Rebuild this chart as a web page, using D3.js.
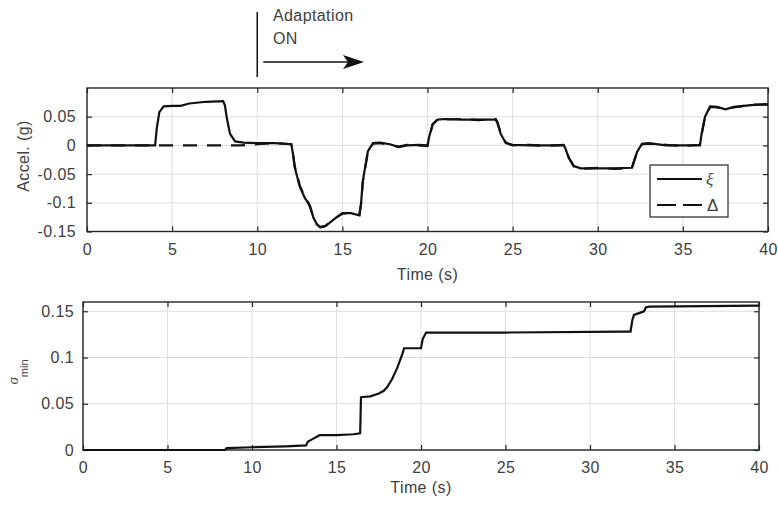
<!DOCTYPE html>
<html><head><meta charset="utf-8">
<script src="https://cdn.jsdelivr.net/npm/d3@7"></script>
<style>
html,body{margin:0;padding:0;background:#fff;}
svg{display:block;font-family:"Liberation Sans",Arial,sans-serif;}
</style></head><body>
<svg id="chart" width="778" height="512"></svg>
<script>
// ---- data ----
const xTicks = [0,5,10,15,20,25,30,35,40];
const accelTicks = [-0.15,-0.1,-0.05,0,0.05];
const accelTickLabels = ["-0.15","-0.1","-0.05","0","0.05"];
const sigmaTicks = [0,0.05,0.1,0.15];
const sigmaTickLabels = ["0","0.05","0.1","0.15"];

const xiTime  = [0,4,4.1,4.25,4.5,5,5.5,6,7,8,8.1,8.2,8.4,8.7,9.2,10,11,12,12.1,12.2,12.5,12.8,13,13.1,13.3,13.5,13.7,14,14.5,15,15.5,16,16.1,16.2,16.5,16.8,17.2,17.8,18.3,18.8,19.5,20,20.1,20.3,20.6,21,22,23,24,24.1,24.3,24.6,25,26,27,28,28.1,28.3,28.6,29,30,31,32,32.1,32.3,32.6,33,34,35,36,36.1,36.3,36.6,37,37.5,38,39,40];
const xiValue = [0,0,0.03,0.058,0.068,0.069,0.069,0.073,0.076,0.077,0.07,0.05,0.02,0.007,0.005,0.004,0.004,0.002,-0.015,-0.038,-0.072,-0.092,-0.1,-0.106,-0.126,-0.137,-0.143,-0.141,-0.129,-0.118,-0.118,-0.122,-0.1,-0.062,-0.01,0.004,0.005,0.002,-0.003,0.0,0.001,0.0,0.015,0.037,0.045,0.046,0.045,0.045,0.045,0.04,0.02,0.004,0.001,0.0,0.0,0.0,-0.005,-0.022,-0.036,-0.04,-0.04,-0.04,-0.039,-0.03,-0.012,0.003,0.004,0.0,0.0,0.0,0.02,0.05,0.068,0.067,0.063,0.067,0.07,0.072];

const deltaTime  = [0,4,8,9,10,11,12,12.1,12.2,12.5,12.8,13,13.1,13.3,13.5,13.7,14,14.5,15,15.5,16,16.1,16.2,16.5,16.8,17.2,17.8,18.3,18.8,19.5,20,20.1,20.3,20.6,21,22,23,24,24.1,24.3,24.6,25,26,27,28,28.1,28.3,28.6,29,30,31,32,32.1,32.3,32.6,33,34,35,36,36.1,36.3,36.6,37,37.5,38,39,40];
const deltaValue = [0,0,0,0,0.002,0.004,0.002,-0.014,-0.036,-0.07,-0.091,-0.101,-0.107,-0.125,-0.138,-0.142,-0.14,-0.128,-0.119,-0.117,-0.121,-0.101,-0.064,-0.011,0.003,0.004,0.001,-0.002,0.001,0.0,-0.001,0.014,0.036,0.046,0.045,0.046,0.044,0.046,0.041,0.021,0.005,0.0,0.001,-0.001,0.001,-0.004,-0.021,-0.037,-0.041,-0.039,-0.041,-0.04,-0.031,-0.013,0.002,0.003,0.001,-0.001,0.001,0.019,0.049,0.067,0.066,0.064,0.066,0.071,0.071];

const sigmaTime  = [0,8.4,8.5,10,12,13.2,13.3,13.6,14,15,16,16.4,16.45,17,17.5,17.8,18,18.3,18.6,18.9,19,20,20.1,20.3,25,32,32.4,32.5,32.6,32.9,33.2,33.3,33.5,40];
const sigmaValue = [0,0,0.002,0.003,0.004,0.005,0.009,0.012,0.016,0.016,0.017,0.018,0.057,0.058,0.061,0.064,0.068,0.077,0.089,0.104,0.11,0.11,0.12,0.127,0.127,0.128,0.128,0.14,0.146,0.148,0.15,0.154,0.155,0.156];

const legendLabels = ["ξ","Δ"];

// ---- drawing ----
const svg = d3.select("#chart");
const textCol = "#404040", axisCol = "#262626", gridCol = "#dedede", lineCol = "#111";
const fs = 16, ls = "0.4px";

function panel(cfg){
  const x = d3.scaleLinear().domain([0,40]).range([cfg.x0,cfg.x1]);
  const y = d3.scaleLinear().domain(cfg.yDomain).range([cfg.y1,cfg.y0]);
  const g = svg.append("g");
  g.selectAll(".gx").data(xTicks).join("line")
    .attr("x1",d=>x(d)).attr("x2",d=>x(d)).attr("y1",cfg.y0).attr("y2",cfg.y1)
    .attr("stroke",gridCol).attr("stroke-width",1);
  g.selectAll(".gy").data(cfg.yTicks).join("line")
    .attr("x1",cfg.x0).attr("x2",cfg.x1).attr("y1",d=>y(d)).attr("y2",d=>y(d))
    .attr("stroke",gridCol).attr("stroke-width",1);
  const ax = g.append("g").attr("transform",`translate(0,${cfg.y1})`)
    .call(d3.axisBottom(x).tickValues(xTicks).tickSize(-5).tickPadding(12).tickFormat(d3.format("d")));
  const axTop = g.append("g").attr("transform",`translate(0,${cfg.y0})`)
    .call(d3.axisTop(x).tickValues(xTicks).tickSize(-5).tickFormat(""));
  const ay = g.append("g").attr("transform",`translate(${cfg.x0},0)`)
    .call(d3.axisLeft(y).tickValues(cfg.yTicks).tickSize(-5).tickPadding(cfg.yPad).tickFormat((d,i)=>cfg.yLabels[i]));
  const ayR = g.append("g").attr("transform",`translate(${cfg.x1},0)`)
    .call(d3.axisRight(y).tickValues(cfg.yTicks).tickSize(-5).tickFormat(""));
  [ax,axTop,ay,ayR].forEach(a=>{
    a.select(".domain").remove();
    a.selectAll(".tick line").attr("stroke",axisCol).attr("stroke-width",1.2);
    a.selectAll("text").attr("fill",textCol).attr("font-size",fs).attr("letter-spacing",ls)
      .attr("font-family","Liberation Sans, Arial, sans-serif");
  });
  g.append("rect").attr("x",cfg.x0).attr("y",cfg.y0).attr("width",cfg.x1-cfg.x0).attr("height",cfg.y1-cfg.y0)
    .attr("fill","none").attr("stroke",axisCol).attr("stroke-width",1.4);
  g.append("text").attr("x",(cfg.x0+cfg.x1)/2).attr("y",cfg.xLabelY).attr("text-anchor","middle")
    .attr("fill",textCol).attr("font-size",fs).attr("letter-spacing",ls).text("Time (s)");
  return {x,y,g};
}

// top panel
const pTop = panel({x0:87,x1:768,y0:88,y1:231.5,yDomain:[-0.15,0.1],yTicks:accelTicks,yLabels:accelTickLabels,yPad:11,xLabelY:280});
const lineTop = d3.line().x(d=>pTop.x(d[0])).y(d=>pTop.y(d[1]));
pTop.g.append("path").datum(deltaTime.map((t,i)=>[t,deltaValue[i]]))
  .attr("d",lineTop).attr("fill","none").attr("stroke",lineCol).attr("stroke-width",2.2).attr("stroke-dasharray","14,10");
pTop.g.append("path").datum(xiTime.map((t,i)=>[t,xiValue[i]]))
  .attr("d",lineTop).attr("fill","none").attr("stroke",lineCol).attr("stroke-width",2.2);
pTop.g.append("text").attr("transform","translate(29,156) rotate(-90)").attr("text-anchor","middle")
  .attr("fill",textCol).attr("font-size",fs).attr("letter-spacing",ls).text("Accel. (g)");

// legend
const lg = pTop.g.append("g");
lg.append("rect").attr("x",650).attr("y",165).attr("width",78).attr("height",52)
  .attr("fill","#fff").attr("stroke",axisCol).attr("stroke-width",1.2);
[0,1].forEach(i=>{
  const yy = 179 + i*26;
  lg.append("line").attr("x1",657).attr("x2",702).attr("y1",yy).attr("y2",yy)
    .attr("stroke",lineCol).attr("stroke-width",2.2).attr("stroke-dasharray",i?"19,7":null);
  lg.append("text").attr("x",i?707:706).attr("y",yy+6).attr("fill",textCol).attr("font-size",17)
    .attr("font-family",i?"Liberation Sans, Arial, sans-serif":"Liberation Serif, serif")
    .attr("font-style",i?null:"italic").text(legendLabels[i]);
});

// annotation
const ax10 = pTop.x(10);
svg.append("line").attr("x1",ax10).attr("x2",ax10).attr("y1",12).attr("y2",77).attr("stroke","#111").attr("stroke-width",1.5);
svg.append("line").attr("x1",ax10+6).attr("x2",350).attr("y1",62).attr("y2",62).attr("stroke","#111").attr("stroke-width",1.5);
svg.append("path").attr("d","M343,55 L364,62 L343,69 L348,62 Z").attr("fill","#111");
svg.append("text").attr("x",273).attr("y",21).attr("fill",textCol).attr("font-size",fs).attr("letter-spacing",ls).text("Adaptation");
svg.append("text").attr("x",273).attr("y",44).attr("fill",textCol).attr("font-size",fs).attr("letter-spacing",ls).text("ON");

// bottom panel
const pBot = panel({x0:83,x1:759,y0:302,y1:450,yDomain:[0,0.16],yTicks:sigmaTicks,yLabels:sigmaTickLabels,yPad:9,xLabelY:493});
const lineBot = d3.line().x(d=>pBot.x(d[0])).y(d=>pBot.y(d[1]));
pBot.g.append("path").datum(sigmaTime.map((t,i)=>[t,sigmaValue[i]]))
  .attr("d",lineBot).attr("fill","none").attr("stroke",lineCol).attr("stroke-width",2.2);
const sl = pBot.g.append("text").attr("transform","translate(18,372) rotate(-90)").attr("text-anchor","middle")
  .attr("fill",textCol).attr("font-size",15);
sl.append("tspan").attr("font-family","Liberation Serif, serif").attr("font-style","italic").text("σ");
sl.append("tspan").attr("font-size",11).attr("dy",10).text("min");
</script>
</body></html>
